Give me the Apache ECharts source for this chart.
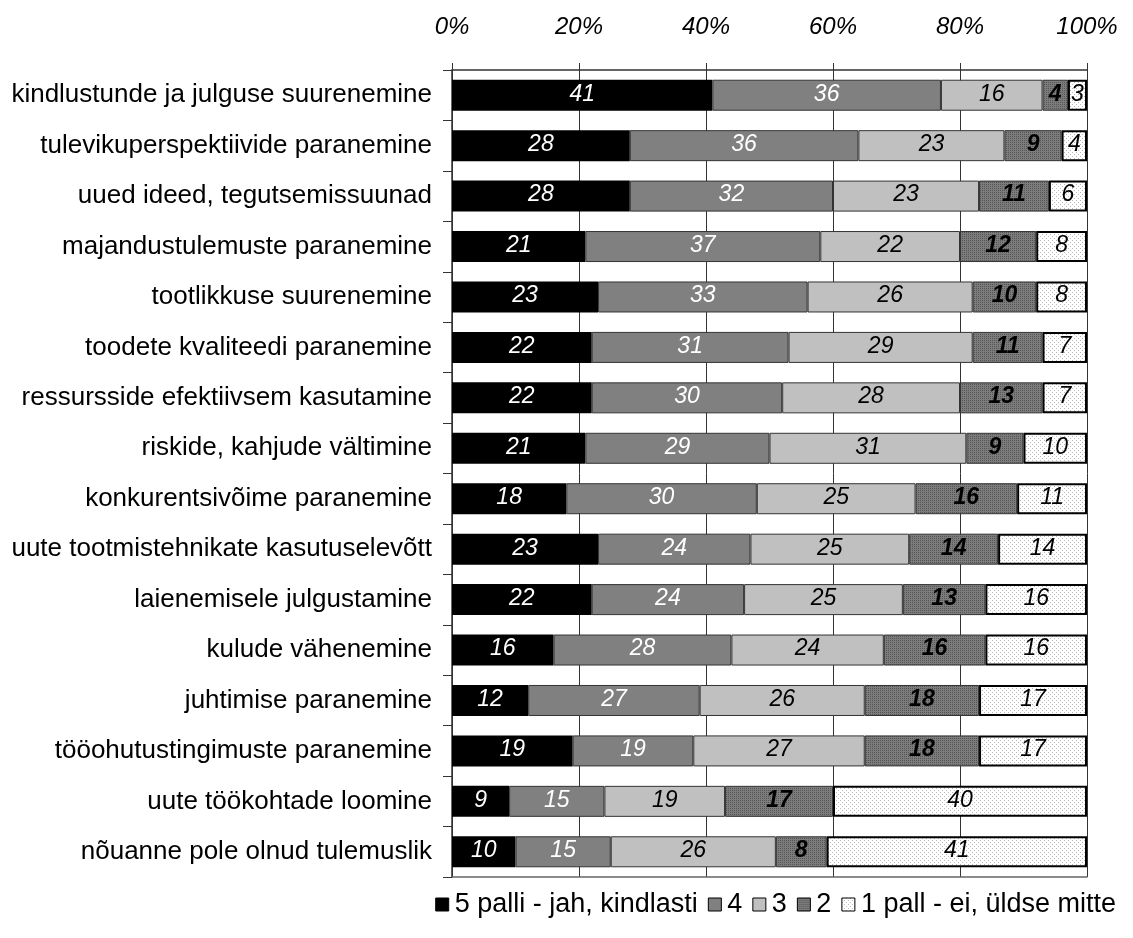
<!DOCTYPE html>
<html>
<head>
<meta charset="utf-8">
<script src="https://cdn.jsdelivr.net/npm/echarts@6/dist/echarts.min.js"></script>
<style>
html,body{margin:0;padding:0;background:#fff;}
#chart{width:1133px;height:938px;}
</style>
</head>
<body>
<div id="chart"></div>
<script>
const categories = [
  "kindlustunde ja julguse suurenemine",
  "tulevikuperspektiivide paranemine",
  "uued ideed, tegutsemissuunad",
  "majandustulemuste paranemine",
  "tootlikkuse suurenemine",
  "toodete kvaliteedi paranemine",
  "ressursside efektiivsem kasutamine",
  "riskide, kahjude vältimine",
  "konkurentsivõime paranemine",
  "uute tootmistehnikate kasutuselevõtt",
  "laienemisele julgustamine",
  "kulude vähenemine",
  "juhtimise paranemine",
  "tööohutustingimuste paranemine",
  "uute töökohtade loomine",
  "nõuanne pole olnud tulemuslik"
];
const seriesNames = ["5 palli - jah, kindlasti", "4", "3", "2", "1 pall - ei, üldse mitte"];
const s5 = [41, 28, 28, 21, 23, 22, 22, 21, 18, 23, 22, 16, 12, 19, 9, 10];
const s4 = [36, 36, 32, 37, 33, 31, 30, 29, 30, 24, 24, 28, 27, 19, 15, 15];
const s3 = [16, 23, 23, 22, 26, 29, 28, 31, 25, 25, 25, 24, 26, 27, 19, 26];
const s2 = [4, 9, 11, 12, 10, 11, 13, 9, 16, 14, 13, 16, 18, 18, 17, 8];
const s1 = [3, 4, 6, 8, 8, 7, 7, 10, 11, 14, 16, 16, 17, 17, 40, 41];
const xTicks = [0, 20, 40, 60, 80, 100];

function makePattern(bg, dot, step) {
  const c = document.createElement('canvas');
  c.width = step; c.height = step;
  const ctx = c.getContext('2d');
  ctx.fillStyle = bg; ctx.fillRect(0, 0, step, step);
  ctx.fillStyle = dot;
  ctx.fillRect(0, 0, 1, 1);
  if (step >= 4) ctx.fillRect(step / 2, step / 2, 1, 1);
  return c;
}
const pat2 = makePattern('#7c7c7c', '#555555', 2);
const pat1 = makePattern('#ffffff', '#b8b8b8', 4);

const font = '"Liberation Sans", Arial, sans-serif';
const seriesData = [s5, s4, s3, s2, s1];
const colors = ['#000000', '#808080', '#c0c0c0', {image: pat2, repeat: 'repeat'}, {image: pat1, repeat: 'repeat'}];
const labelColors = ['#ffffff', '#ffffff', '#000000', '#000000', '#000000'];
const labelWeights = ['normal', 'normal', 'normal', 'bold', 'normal'];
const borders = [
  {borderColor: '#000', borderWidth: 0},
  {borderColor: '#333', borderWidth: 1},
  {borderColor: '#333', borderWidth: 1},
  {borderColor: '#333', borderWidth: 1},
  {borderColor: '#000', borderWidth: 2}
];

const series = seriesData.map((d, i) => ({
  name: seriesNames[i],
  type: 'bar',
  stack: 'total',
  barWidth: 31,
  data: d,
  itemStyle: Object.assign({color: colors[i]}, borders[i]),
  label: {
    show: true,
    position: 'inside',
    color: labelColors[i],
    fontStyle: 'italic',
    fontWeight: labelWeights[i],
    fontSize: 23,
    fontFamily: font,
    offset: [0, -1]
  },
  emphasis: {disabled: true}
}));

const chart = echarts.init(document.getElementById('chart'));
chart.setOption({
  animation: false,
  backgroundColor: '#fff',
  grid: {left: 452, right: 46, top: 70, bottom: 61, containLabel: false},
  legend: {
    data: seriesNames,
    bottom: 15,
    right: 12,
    icon: 'rect',
    itemWidth: 13,
    itemHeight: 13,
    itemGap: 10,
    textStyle: {fontSize: 27, fontFamily: font, color: '#000', padding: [0, 0, 0, 1]},
    itemStyle: {borderColor: '#000', borderWidth: 1}
  },
  xAxis: [{
    type: 'value',
    position: 'top',
    min: 0, max: 100, interval: 20,
    axisLine: {show: true, lineStyle: {color: '#333', width: 1.5}},
    axisTick: {show: true, length: 7, lineStyle: {color: '#333'}},
    splitLine: {show: true, lineStyle: {color: '#333', width: 1}},
    axisLabel: {
      margin: 31,
      fontSize: 24,
      fontStyle: 'italic',
      fontFamily: font,
      color: '#000',
      formatter: v => xTicks.includes(v) ? v + '%' : ''
    }
  }, {
    type: 'value',
    position: 'bottom',
    min: 0, max: 100, interval: 20,
    axisLine: {show: true, lineStyle: {color: '#666', width: 1.5}},
    axisTick: {show: false},
    splitLine: {show: false},
    axisLabel: {show: false}
  }],
  yAxis: {
    type: 'category',
    data: categories,
    inverse: true,
    axisLine: {show: true, lineStyle: {color: '#333', width: 1.5}},
    axisTick: {show: true, length: 9, lineStyle: {color: '#333'}},
    axisLabel: {margin: 20, fontSize: 26, fontFamily: font, color: '#000'}
  },
  series: series
});
</script>
</body>
</html>
